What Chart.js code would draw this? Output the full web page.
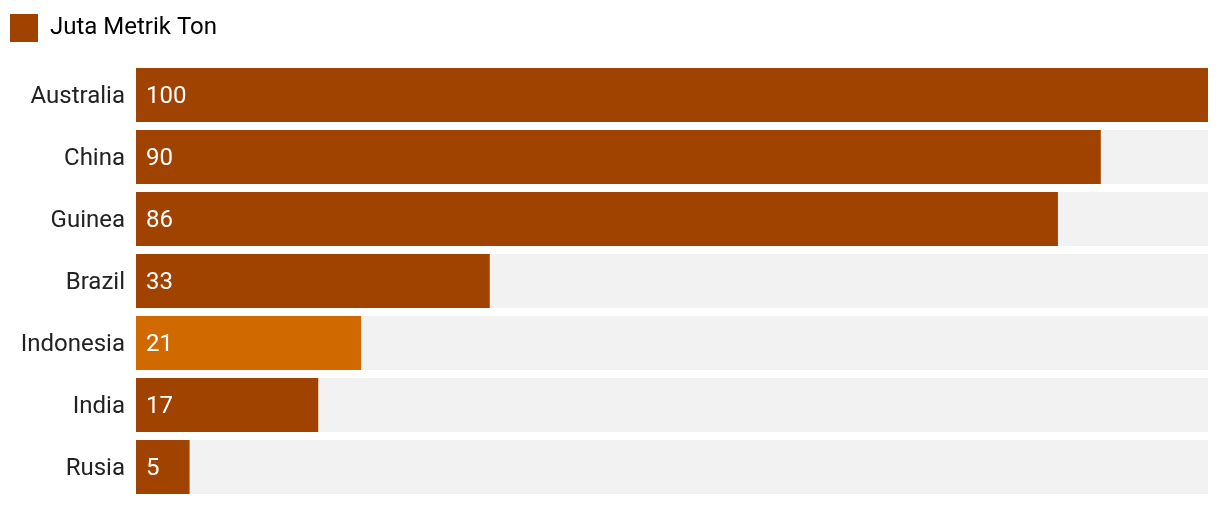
<!DOCTYPE html>
<html>
<head>
<meta charset="utf-8">
<script src="https://cdn.jsdelivr.net/npm/chart.js@4"></script>
<style>
  body { margin: 0; background: #fff; }
  canvas { display: block; }
</style>
</head>
<body>
<canvas id="myChart" width="1220" height="506"></canvas>
<script>
// data for the chart
var countries = ['Australia', 'China', 'Guinea', 'Brazil', 'Indonesia', 'India', 'Rusia'];
var production = [100, 90, 86, 33, 21, 17, 5];
var trackMax = [100, 100, 100, 100, 100, 100, 100];
var seriesLabel = 'Juta Metrik Ton';

var barColors = countries.map(function (c) {
    return c === 'Indonesia' ? '#d06a00' : '#a04300';
});

// writes the value inside each bar, near its start
const valueLabels = {
    id: 'valueLabels',
    afterDatasetsDraw: function (chart) {
        var ctx = chart.ctx;
        var meta = chart.getDatasetMeta(0);
        ctx.save();
        ctx.fillStyle = '#ffffff';
        ctx.font = '24px Roboto';
        ctx.textAlign = 'left';
        ctx.textBaseline = 'middle';
        meta.data.forEach(function (bar, i) {
            ctx.fillText(production[i], bar.base + 10, bar.y + 2);
        });
        ctx.restore();
    }
};

// a bit more room under the legend
const legendGap = {
    id: 'legendGap',
    beforeInit: function (chart) {
        var fit = chart.legend.fit;
        chart.legend.fit = function () {
            fit.call(this);
            this.height = 60;
        };
    }
};

const data = {
    labels: countries,
    datasets: [
        {
            label: seriesLabel,
            data: production,
            backgroundColor: barColors,
            barPercentage: 1,
            categoryPercentage: 0.871,
            order: 1
        },
        {// grey track behind every bar
            label: 'track',
            data: trackMax,
            backgroundColor: '#f2f2f2',
            barPercentage: 1,
            categoryPercentage: 0.871,
            order: 2
        }
    ]
};

const config = {
    type: 'bar',
    data: data,
    plugins: [valueLabels, legendGap],
    options: {
        indexAxis: 'y',
        responsive: false,
        animation: false,
        grouped: false,
        layout: {
            padding: { left: 0, right: 12, top: 4, bottom: 8 }
        },
        plugins: {
            legend: {
                display: true,
                position: 'top',
                align: 'start',
                labels: {
                    boxWidth: 28,
                    boxHeight: 28,
                    padding: 10,
                    color: '#222222',
                    font: { family: 'Roboto', size: 24 },
                    generateLabels: function (chart) {
                        return [{
                            text: seriesLabel,
                            fillStyle: '#a04300',
                            strokeStyle: '#a04300',
                            lineWidth: 0,
                            datasetIndex: 0
                        }];
                    }
                }
            },
            tooltip: { enabled: false }
        },
        scales: {
            x: {
                display: false,
                min: 0,
                max: 100
            },
            y: {
                grid: { display: false, drawTicks: false },
                border: { display: false },
                afterFit: function (scale) {
                    scale.width = 136;
                    scale.paddingTop = 0;
                    scale.paddingBottom = 0;
                },
                ticks: {
                    color: '#222222',
                    padding: 11,
                    labelOffset: 2,
                    font: { family: 'Roboto', size: 24 }
                }
            }
        }
    }
};

const myChart = new Chart(document.getElementById('myChart'), config);
</script>
</body>
</html>
